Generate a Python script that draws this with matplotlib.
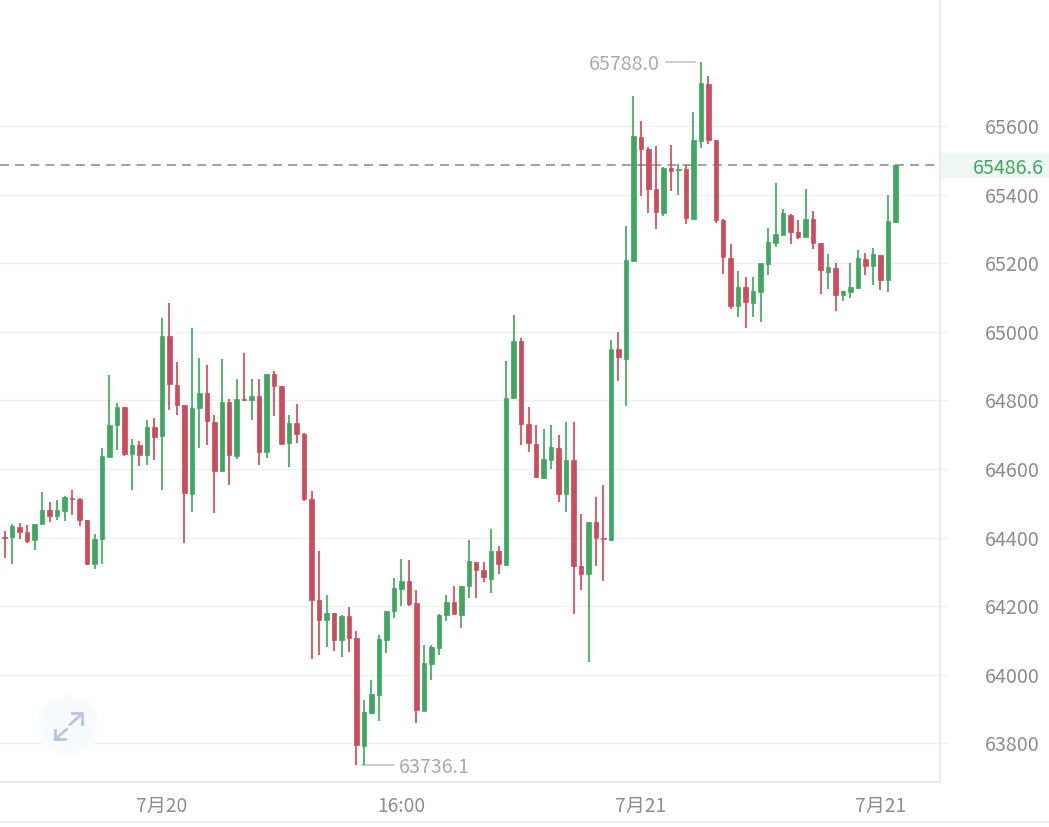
# 7月 BTC-style candlestick chart, right hand price axis
import matplotlib
matplotlib.use('Agg')
import matplotlib.pyplot as plt
from matplotlib.patches import Circle, Rectangle

opens = [64403, 64401, 64431, 64417, 64392, 64439, 64481, 64462, 64477, 64516,
         64513, 64452, 64324, 64395, 64634, 64727, 64780, 64644, 64671, 64642,
         64722, 64695, 64989, 64846, 64788, 64526, 64777, 64823, 64738, 64593,
         64796, 64637, 64805, 64800, 64814, 64651, 64878, 64841, 64675, 64734,
         64702, 64512, 64217, 64160, 64180, 64100, 64170, 64106, 63792, 63888,
         63941, 64101, 64187, 64249, 64273, 64208, 63894, 64030, 64078, 64174,
         64211, 64174, 64259, 64328, 64306, 64278, 64360, 64321, 64806, 64973,
         64730, 64674, 64574, 64627, 64662, 64528, 64627, 64316, 64295, 64444,
         64400, 64392, 64951, 64922, 65207, 65567, 65533, 65415, 65345, 65477,
         65472, 65474, 65330, 65557, 65722, 65559, 65327, 65214, 65075, 65130,
         65085, 65117, 65199, 65260, 65283, 65342, 65291, 65277, 65328, 65258,
         65175, 65185, 65107, 65117, 65129, 65211, 65193, 65223, 65152, 65320]
highs = [64419, 64441, 64443, 64438, 64441, 64534, 64504, 64511, 64520, 64540,
         64515, 64452, 64411, 64661, 64875, 64791, 64781, 64686, 64683, 64744,
         64749, 65041, 65084, 64913, 64788, 65011, 64924, 64904, 64756, 64921,
         64804, 64863, 64938, 64861, 64861, 64878, 64887, 64843, 64758, 64790,
         64705, 64535, 64360, 64232, 64181, 64173, 64197, 64128, 63927, 63984,
         64115, 64187, 64283, 64337, 64334, 64248, 64086, 64086, 64176, 64232,
         64258, 64260, 64392, 64328, 64329, 64424, 64375, 64916, 65050, 64982,
         64781, 64729, 64717, 64729, 64700, 64738, 64738, 64470, 64446, 64517,
         64552, 64975, 64999, 65308, 65688, 65615, 65540, 65542, 65481, 65544,
         65489, 65486, 65641, 65788, 65746, 65559, 65328, 65256, 65177, 65159,
         65159, 65202, 65303, 65433, 65357, 65343, 65326, 65415, 65351, 65258,
         65227, 65202, 65120, 65202, 65239, 65231, 65244, 65223, 65399, 65486.6]
lows = [64340, 64322, 64395, 64383, 64363, 64439, 64445, 64452, 64447, 64465,
        64433, 64321, 64308, 64322, 64634, 64654, 64637, 64538, 64608, 64611,
        64627, 64538, 64771, 64758, 64384, 64474, 64660, 64671, 64471, 64590,
        64552, 64628, 64801, 64744, 64611, 64631, 64754, 64672, 64605, 64676,
        64506, 64047, 64059, 64081, 64068, 64052, 64066, 63737, 63736.1, 63886,
        63865, 64064, 64166, 64201, 64201, 63859, 63894, 63984, 64058, 64156,
        64177, 64136, 64224, 64224, 64270, 64237, 64294, 64319, 64806, 64669,
        64649, 64573, 64573, 64601, 64503, 64474, 64176, 64248, 64037, 64316,
        64273, 64390, 64856, 64783, 65207, 65397, 65347, 65301, 65338, 65411,
        65400, 65315, 65330, 65537, 65548, 65318, 65169, 65067, 65044, 65012,
        65044, 65030, 65167, 65248, 65282, 65257, 65270, 65276, 65242, 65111,
        65125, 65062, 65091, 65100, 65128, 65166, 65135, 65123, 65117, 65318]
closes = [64398, 64433, 64417, 64391, 64441, 64481, 64464, 64480, 64518, 64513,
          64452, 64323, 64397, 64637, 64729, 64780, 64645, 64671, 64642, 64723,
          64694, 64989, 64847, 64788, 64529, 64779, 64823, 64739, 64595, 64796,
          64640, 64804, 64801, 64814, 64651, 64878, 64841, 64674, 64735, 64702,
          64513, 64217, 64160, 64179, 64100, 64171, 64107, 63794, 63891, 63943,
          64104, 64187, 64252, 64273, 64205, 63896, 64033, 64081, 64175, 64211,
          64177, 64259, 64331, 64305, 64284, 64360, 64322, 64808, 64974, 64730,
          64675, 64576, 64630, 64665, 64528, 64627, 64316, 64295, 64445, 64400,
          64396, 64950, 64927, 65209, 65571, 65533, 65417, 65349, 65479, 65470,
          65474, 65333, 65559, 65726, 65559, 65326, 65217, 65075, 65130, 65088,
          65118, 65201, 65262, 65284, 65345, 65292, 65275, 65328, 65259, 65179,
          65188, 65107, 65118, 65130, 65214, 65193, 65226, 65151, 65322, 65486.6]

price_ticks = [63800, 64000, 64200, 64400, 64600, 64800, 65000, 65200, 65400, 65600]
time_ticks = [21, 53, 85, 117]
time_labels = ['7月20', '16:00', '7月21', '7月21']
last_price = closes[-1]
high_price = max(highs)
low_price = min(lows)

GREEN = '#3fa75f'
RED = '#cb4c5c'
GREY = '#8c8c8c'
LINE = '#e8e8e8'
FONTS = ['Noto Sans CJK SC', 'DejaVu Sans']

plt.rcParams['font.family'] = FONTS

W, H = 1049, 827
fig = plt.figure(figsize=(W / 100, H / 100), dpi=100)

# price panel fills everything left of x=940 and above y=782
ax = fig.add_axes([0, 1 - 782 / H, 940 / W, 782 / H])
ax.set_xlim(-0.628, 124.96)
ax.set_ylim(63687.4, 65967.4)

for spine in ['top', 'left']:
    ax.spines[spine].set_visible(False)
ax.spines['right'].set_color(LINE)
ax.spines['bottom'].set_color(LINE)
ax.spines['right'].set_linewidth(1.2)
ax.spines['bottom'].set_linewidth(1.2)

ax.yaxis.tick_right()
ax.set_yticks(price_ticks)
ax.set_yticklabels([str(p) for p in price_ticks], fontsize=14.2, color=GREY)
ax.set_xticks(time_ticks)
ax.set_xticklabels(time_labels, fontsize=13.8, color=GREY)
ax.tick_params(axis='y', length=6, width=1, color='#f0f0f0', pad=26)
ax.tick_params(axis='x', length=0, pad=10)
ax.grid(axis='y', color='#f0f0f0', linewidth=1)
ax.set_axisbelow(True)

# candles
xs = list(range(len(opens)))
colors = [GREEN if c >= o else RED for o, c in zip(opens, closes)]
body_low = [min(o, c) for o, c in zip(opens, closes)]
body_size = [abs(o - c) for o, c in zip(opens, closes)]
ax.vlines(xs, lows, highs, colors=colors, linewidth=1.5, alpha=0.85, zorder=3)
ax.bar(xs, body_size, bottom=body_low, width=0.6, color=colors,
       edgecolor=colors, linewidth=0.5, zorder=4)

# last price line and tag
ax.axhline(last_price, color='#9a9a9a', linewidth=1.3, dashes=(5, 3.4), zorder=2)

# high and low leaders
hi_x = highs.index(high_price)
lo_x = lows.index(low_price)
ax.plot([hi_x - 4.7, hi_x - 0.8], [high_price, high_price], color='#c4c4c4', linewidth=1.2, zorder=2)
ax.text(hi_x - 5.4, high_price, f'{high_price:.1f}', ha='right', va='center_baseline',
        fontsize=14.2, color='#ababab')
ax.plot([lo_x - 0.2, lo_x + 3.9], [low_price, low_price], color='#c4c4c4', linewidth=1.2, zorder=2)
ax.text(lo_x + 4.7, low_price, f'{low_price:.1f}', ha='left', va='center_baseline',
        fontsize=14.2, color='#ababab')

# overlay in pixel units for the tag, the expand button and the bottom rule
top = fig.add_axes([0, 0, 1, 1], facecolor='none')
top.set_xlim(0, W)
top.set_ylim(H, 0)
top.axis('off')

top.add_patch(Rectangle((941, 153), 108, 24, color='#eff8f2', zorder=1))
top.text(1044, 165.5, f'{last_price:.1f}', ha='right', va='center_baseline',
         fontsize=14.2, color=GREEN, zorder=2)

for radius, tone in [(31, '#fcfdfe'), (27, '#f8fbfe')]:
    top.add_patch(Circle((68, 725), radius, color=tone, zorder=1))
top.plot([70, 82.3], [724.5, 713.5], color='#b5c6df', linewidth=2, zorder=2)
top.plot([71.7, 82.3, 82.3], [713.3, 713.3, 723.5], color='#b5c6df', linewidth=2, zorder=2)
top.plot([66.7, 55], [729.3, 739.3], color='#b5c6df', linewidth=2, zorder=2)
top.plot([55, 55, 65], [730, 739.3, 739.3], color='#b5c6df', linewidth=2, zorder=2)

top.plot([0, W], [822, 822], color='#eeeeee', linewidth=1.2)

fig.savefig('out.png', dpi=100)
